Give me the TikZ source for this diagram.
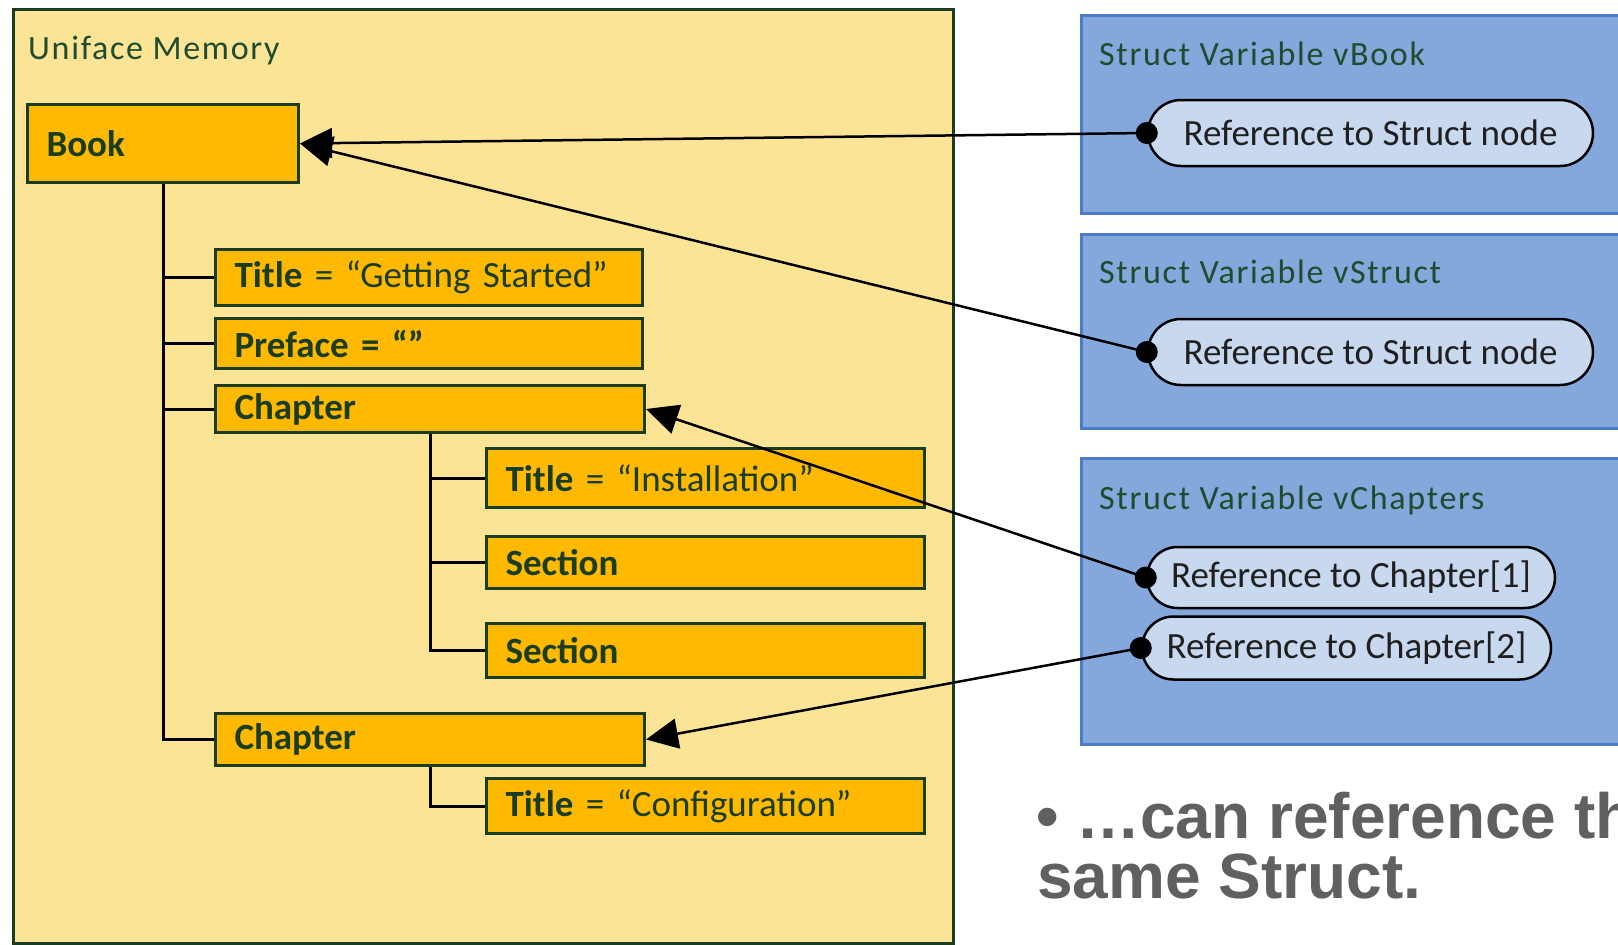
\documentclass[tikz,border=0pt]{standalone}
\usepackage{fontspec}
\setmainfont{Carlito}
\newfontfamily\ttlfont{Carlito}[LetterSpace=5]
\newfontfamily\arlfont{Liberation Sans}
\usetikzlibrary{arrows.meta,shapes.misc}
\definecolor{bgyel}{HTML}{FCE497}
\definecolor{orng}{HTML}{FFB900}
\definecolor{dgreen}{HTML}{1B3D1F}
\definecolor{txtgreen}{HTML}{1F4B2E}
\definecolor{bluefill}{HTML}{84A8DC}
\definecolor{blueline}{HTML}{4A7CCB}
\definecolor{pillfill}{HTML}{C8D8EF}
\definecolor{graytxt}{HTML}{606060}
\begin{document}
\begin{tikzpicture}[x=1pt,y=-1pt,
  box/.style={draw=dgreen, fill=orng, line width=3pt, anchor=north west,
    inner xsep=19pt, inner ysep=0pt, align=left, text=dgreen,
    font=\fontsize{37}{40}\selectfont},
  memarea/.style={draw=dgreen, fill=bgyel, line width=3pt, anchor=north west, inner sep=0pt},
  bluebox/.style={draw=blueline, fill=bluefill, line width=3pt, anchor=north west, inner sep=0pt},
  pill/.style={rounded rectangle, draw=black, line width=2.5pt, fill=pillfill, inner sep=0pt,
    font=\fontsize{37}{40}\selectfont, text=black!88},
  ttl/.style={anchor=base west, inner sep=0pt, text=txtgreen, font=\ttlfont\fontsize{34}{36}\selectfont},
  tree/.style={draw=black, line width=3pt},
  conn/.style={draw=black, line width=2.5pt, -{Triangle[length=32pt,width=30pt]}},
  dotn/.style={circle, fill=black, minimum size=22pt, inner sep=0pt},
  bullet/.style={anchor=base west, inner sep=0pt, text=graytxt,
    font=\arlfont\bfseries\fontsize{64}{64}\selectfont}
]
\useasboundingbox (0,0) rectangle (1618,945);
\clip (0,0) rectangle (1618,945);
\fill[white] (0,0) rectangle (1618,945);

% memory area
\node[memarea, minimum width=940pt, minimum height=934pt] (mem) at (12,8) {};
\node[ttl] (memttl) at (28,59) {Uniface Memory};

% tree boxes
\node[box, text width=233pt, minimum height=78pt] (book) at (26,103) {\textbf{Book}};
\node[box, text width=389pt, minimum height=56pt] (t1) at (214,248) {\textbf{Title} = “Getting Started”};
\node[box, text width=389pt, minimum height=50pt] (pref) at (214,317) {\textbf{Preface = “”}};
\node[box, text width=391pt, minimum height=47pt] (ch1) at (214,384) {\textbf{Chapter}};
\node[box, text width=400pt, minimum height=59pt] (t2) at (485,447) {\textbf{Title} = “Installation”};
\node[box, text width=400pt, minimum height=52pt] (sec1) at (485,535) {\textbf{Section}};
\node[box, text width=400pt, minimum height=54pt] (sec2) at (485,622) {\textbf{Section}};
\node[box, text width=391pt, minimum height=52pt] (ch2) at (214,712) {\textbf{Chapter}};
\node[box, text width=400pt, minimum height=55pt] (t3) at (485,777) {\textbf{Title} = “Configuration”};

% tree lines
\draw[tree] (book.south) -- (book.south |- ch2.west) -- (ch2.west);
\draw[tree] (book.south |- t1.west) -- (t1.west);
\draw[tree] (book.south |- pref.west) -- (pref.west);
\draw[tree] (book.south |- ch1.west) -- (ch1.west);
\draw[tree] (ch1.south) -- (ch1.south |- sec2.west) -- (sec2.west);
\draw[tree] (ch1.south |- t2.west) -- (t2.west);
\draw[tree] (ch1.south |- sec1.west) -- (sec1.west);
\draw[tree] (ch2.south) -- (ch2.south |- t3.west) -- (t3.west);

% struct variables
\node[bluebox, minimum width=560pt, minimum height=198pt] (vbook) at (1080,14) {};
\node[bluebox, minimum width=560pt, minimum height=194pt] (vstruct) at (1080,233) {};
\node[bluebox, minimum width=560pt, minimum height=286pt] (vchap) at (1080,457) {};
\node[ttl] (vbookttl) at (1099,65) {Struct Variable vBook};
\node[ttl] (vstructttl) at (1099,283) {Struct Variable vStruct};
\node[ttl] (vchapttl) at (1099,509) {Struct Variable vChapters};

\node[pill, minimum width=445pt, minimum height=66pt] (pA) at (1370.5,133) {Reference to Struct node};
\node[pill, minimum width=445pt, minimum height=66pt] (pB) at (1370.5,352) {Reference to Struct node};
\node[pill, minimum width=408pt, minimum height=61pt] (pC) at (1351,577.5) {Reference to Chapter[1]};
\node[pill, minimum width=409pt, minimum height=63pt] (pD) at (1346.5,648) {Reference to Chapter[2]};

\node[dotn] (dA) at (pA.west) {};
\node[dotn] (dB) at (pB.west) {};
\node[dotn] (dC) at (pC.west) {};
\node[dotn] (dD) at (pD.west) {};

% connectors
\draw[conn] (dA.center) -- (book.east);
\draw[conn] (dB.center) -- (book.east);
\draw[conn] (dC.center) -- (ch1.east);
\draw[conn] (dD.center) -- (ch2.east);

% bullet text
\node[bullet] (bul1) at (1036,838) {• …can reference the};
\node[bullet] (bul2) at (1037,898) {same Struct.};
\end{tikzpicture}
\end{document}
